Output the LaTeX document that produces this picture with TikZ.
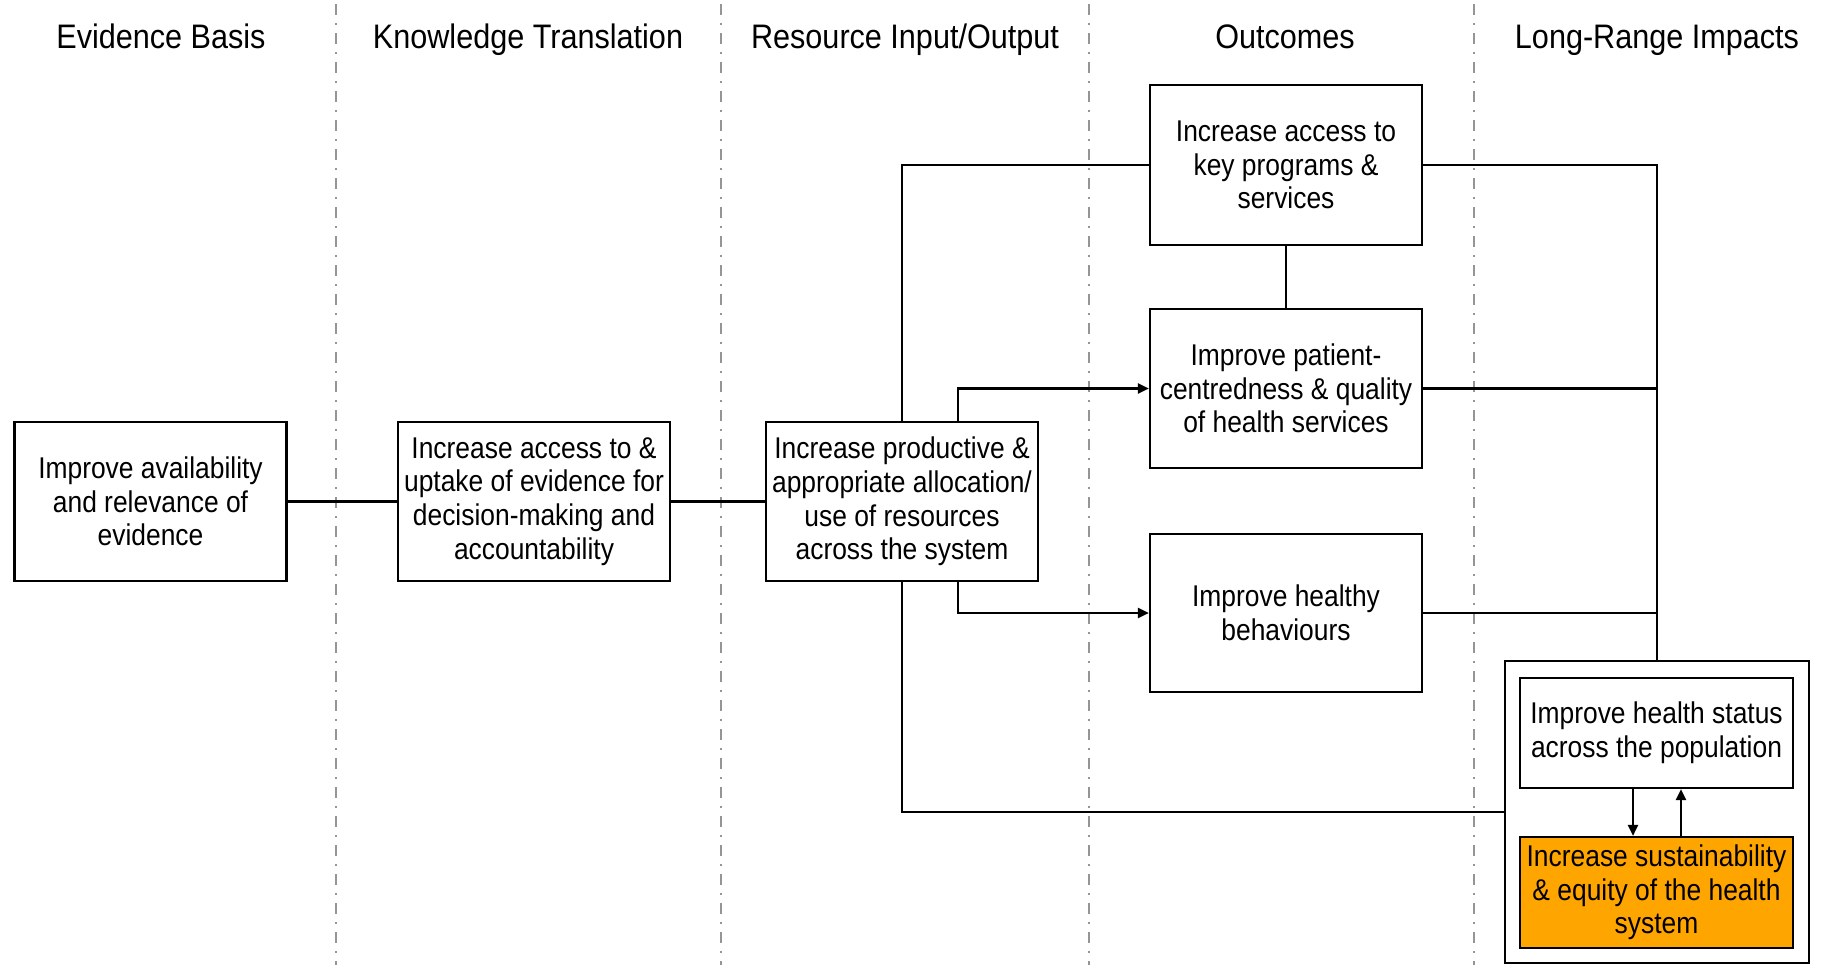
\documentclass[tikz,border=0pt]{standalone}
\usepackage{fontspec}
\setmainfont[FakeStretch=0.88]{Liberation Sans}
\newfontfamily\headfont[FakeStretch=0.9]{Liberation Sans}
\usetikzlibrary{arrows.meta}
\definecolor{orng}{HTML}{FFA500}
\definecolor{sepgrey}{HTML}{959595}
\begin{document}
\begin{tikzpicture}[x=0.5pt,y=-0.5pt,
  box/.style={draw,line width=1.1pt,fill=white,align=center,inner sep=0pt,
    minimum width=136pt,minimum height=79.5pt,font=\fontsize{15}{16.8}\selectfont},
  head/.style={font=\headfont\fontsize{17}{20}\selectfont,inner sep=0pt,anchor=base},
  sep/.style={draw=sepgrey,line width=1pt,dash pattern=on 5.5pt off 4pt on 1pt off 4pt},
  conn/.style={line width=1.1pt},
  arr/.style={conn,-{Triangle[length=5.5pt,width=5pt]}}]
\useasboundingbox (0,0) rectangle (1831,965);
% column separators
\foreach \x in {336,721,1089,1474} \draw[sep] (\x,4) -- (\x,965);
% headings
\node[head] (h1) at (161,48.5) {Evidence Basis};
\node[head] (h2) at (528,48.5) {Knowledge Translation};
\node[head] (h3) at (905,48.5) {Resource Input/Output};
\node[head] (h4) at (1285,48.5) {Outcomes};
\node[head] (h5) at (1657,48.5) {Long-Range Impacts};
% boxes
\node[box] (A) at (150.5,501.5) {Improve availability\\and relevance of\\evidence};
\node[box] (B) at (534,501.5) {Increase access to \&\\uptake of evidence for\\decision-making and\\accountability};
\node[box] (C) at (902,501.5) {Increase productive \&\\appropriate allocation/\\use of resources\\across the system};
\node[box,minimum height=80pt] (D) at (1286,165) {Increase access to\\key programs \&\\services};
\node[box] (E) at (1286,388.5) {Improve patient-\\centredness \& quality\\of health services};
\node[box,minimum height=79pt] (F) at (1286,613) {Improve healthy\\behaviours};
\node[draw,line width=1.1pt,minimum width=152pt,minimum height=151pt,inner sep=0pt] (G) at (1657,812) {};
\node[box,minimum width=136.5pt,minimum height=55pt] (H) at (1656.5,733) {Improve health status\\across the population};
\node[box,fill=orng,minimum width=136.5pt,minimum height=55.5pt] (I) at (1656.5,892.5) {Increase sustainability\\\& equity of the health\\system};
% connectors
\draw[conn] (A.east) -- (B.west);
\draw[conn] (B.east) -- (C.west);
\draw[conn] (C.north) |- (D.west);
\draw[conn] (C.south) |- (G.west);
\coordinate (c1) at (958,421.75);
\coordinate (c2) at (958,581.25);
\draw[arr] (c1) |- (E.west);
\draw[arr] (c2) |- (F.west);
\draw[conn] (D.south) -- (E.north);
\draw[conn] (D.east) -| (G.north);
\draw[conn] (E.east) -- (E.east -| G.north);
\draw[conn] (F.east) -- (F.east -| G.north);
\draw[arr] ([xshift=-11.75pt]H.south) -- ([xshift=-11.75pt]I.north);
\draw[arr] ([xshift=12.25pt]I.north) -- ([xshift=12.25pt]H.south);
\end{tikzpicture}
\end{document}
